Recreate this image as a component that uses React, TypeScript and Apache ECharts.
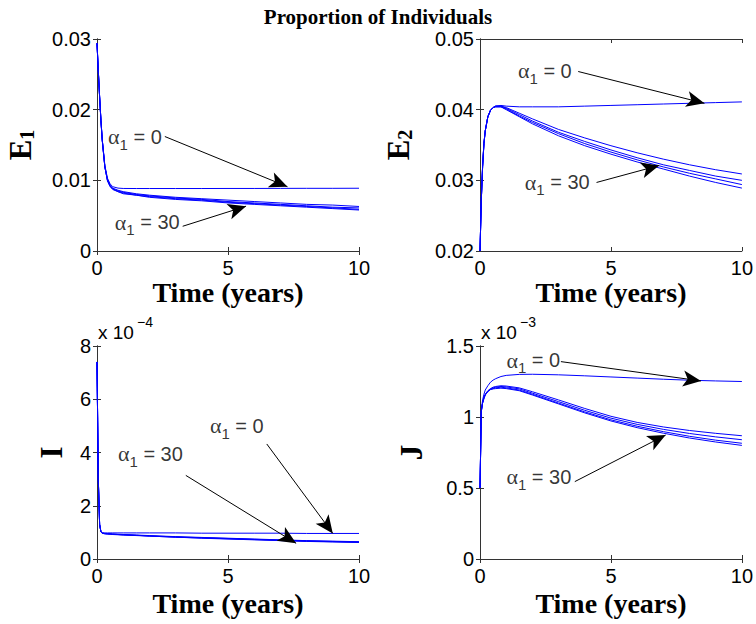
import React, { useEffect, useRef } from 'react';
import * as echarts from 'echarts';

// time points (years)
const T = [0, 0.05, 0.1, 0.15, 0.2, 0.3, 0.4, 0.5, 0.6, 0.8, 1, 1.5, 2, 3, 4, 5, 6, 7, 8, 9, 10];

// E1 curves
const e1Alpha0 = [0.0294, 0.0255, 0.0218, 0.0185, 0.0158, 0.0121, 0.0103, 0.0095, 0.0091, 0.0089, 0.00885, 0.00884, 0.00884, 0.00884, 0.00884, 0.00885, 0.00885, 0.00886, 0.00887, 0.00887, 0.00888];
const e1CurveB = [0.0294, 0.0255, 0.0218, 0.0185, 0.0157, 0.0119, 0.0101, 0.0093, 0.0089, 0.0086, 0.0084, 0.0081, 0.0079, 0.0076, 0.0074, 0.0072, 0.0070, 0.0068, 0.0066, 0.0065, 0.0063];
const e1CurveC = [0.0294, 0.0255, 0.0218, 0.0185, 0.0157, 0.0119, 0.0100, 0.0092, 0.0088, 0.0085, 0.0083, 0.0080, 0.0078, 0.0075, 0.0073, 0.0070, 0.0068, 0.0066, 0.0064, 0.0062, 0.0061];
const e1CurveD = [0.0294, 0.0255, 0.0218, 0.0185, 0.0157, 0.0119, 0.0100, 0.0092, 0.0088, 0.0084, 0.0082, 0.0079, 0.0077, 0.0074, 0.0072, 0.0069, 0.0067, 0.0065, 0.0063, 0.0061, 0.0059];
const e1CurveE = [0.0294, 0.0255, 0.0218, 0.0185, 0.0157, 0.0119, 0.0099, 0.0091, 0.0087, 0.0084, 0.0081, 0.0079, 0.0076, 0.0073, 0.0071, 0.0068, 0.0066, 0.0064, 0.0062, 0.0060, 0.0058];

// E2 curves
const e2Alpha0 = [0.0200, 0.0272, 0.0320, 0.0352, 0.0370, 0.0390, 0.0399, 0.0403, 0.0405, 0.0406, 0.0405, 0.0404, 0.0404, 0.0404, 0.0405, 0.0406, 0.0407, 0.0408, 0.0409, 0.0410, 0.0411];
const e2CurveB = [0.0200, 0.0272, 0.0320, 0.0352, 0.0370, 0.0390, 0.0399, 0.0403, 0.0405, 0.0405, 0.0403, 0.0395, 0.0387, 0.0372, 0.0360, 0.0349, 0.0339, 0.0330, 0.0322, 0.0315, 0.0309];
const e2CurveC = [0.0200, 0.0272, 0.0320, 0.0352, 0.0370, 0.0390, 0.0399, 0.0403, 0.0405, 0.0405, 0.0402, 0.0393, 0.0384, 0.0368, 0.0355, 0.0343, 0.0332, 0.0322, 0.0314, 0.0306, 0.0300];
const e2CurveD = [0.0200, 0.0272, 0.0320, 0.0352, 0.0370, 0.0390, 0.0399, 0.0403, 0.0404, 0.0404, 0.0401, 0.0391, 0.0382, 0.0366, 0.0352, 0.0340, 0.0329, 0.0319, 0.0310, 0.0302, 0.0294];
const e2CurveE = [0.0200, 0.0272, 0.0320, 0.0352, 0.0370, 0.0390, 0.0399, 0.0403, 0.0404, 0.0404, 0.0400, 0.0390, 0.0380, 0.0363, 0.0349, 0.0337, 0.0326, 0.0316, 0.0306, 0.0297, 0.0289];

// I curves (x 1e-4)
const iAlpha0 = [7.4, 3.0, 1.3, 1.03, 0.99, 0.98, 0.98, 0.98, 0.98, 0.98, 0.98, 0.98, 0.98, 0.98, 0.97, 0.97, 0.97, 0.97, 0.96, 0.96, 0.96];
const iCurveB = [7.4, 3.0, 1.3, 1.02, 0.97, 0.96, 0.95, 0.95, 0.94, 0.93, 0.92, 0.90, 0.88, 0.84, 0.81, 0.78, 0.75, 0.72, 0.69, 0.67, 0.65];
const iCurveC = [7.4, 3.0, 1.3, 1.02, 0.97, 0.95, 0.95, 0.94, 0.93, 0.92, 0.91, 0.89, 0.87, 0.83, 0.80, 0.77, 0.74, 0.71, 0.68, 0.66, 0.64];
const iCurveD = [7.4, 3.0, 1.3, 1.02, 0.97, 0.95, 0.94, 0.94, 0.93, 0.92, 0.91, 0.89, 0.86, 0.82, 0.79, 0.76, 0.73, 0.70, 0.67, 0.65, 0.63];
const iCurveE = [7.4, 3.0, 1.3, 1.02, 0.96, 0.95, 0.94, 0.93, 0.92, 0.91, 0.90, 0.88, 0.86, 0.82, 0.78, 0.75, 0.72, 0.69, 0.66, 0.64, 0.62];

// J curves (x 1e-3)
const jAlpha0 = [0.50, 1.05, 1.12, 1.16, 1.19, 1.22, 1.245, 1.26, 1.27, 1.285, 1.293, 1.300, 1.301, 1.297, 1.290, 1.282, 1.274, 1.266, 1.259, 1.254, 1.250];
const jCurveB = [0.50, 1.04, 1.10, 1.14, 1.16, 1.185, 1.20, 1.21, 1.215, 1.22, 1.218, 1.205, 1.178, 1.12, 1.06, 1.005, 0.962, 0.93, 0.905, 0.885, 0.868];
const jCurveC = [0.50, 1.04, 1.10, 1.135, 1.158, 1.182, 1.197, 1.205, 1.21, 1.215, 1.212, 1.198, 1.168, 1.108, 1.047, 0.992, 0.948, 0.913, 0.884, 0.86, 0.84];
const jCurveD = [0.50, 1.04, 1.10, 1.13, 1.155, 1.18, 1.195, 1.2, 1.205, 1.21, 1.205, 1.19, 1.16, 1.098, 1.036, 0.98, 0.935, 0.897, 0.864, 0.837, 0.815];
const jCurveE = [0.50, 1.04, 1.10, 1.13, 1.155, 1.18, 1.193, 1.198, 1.2, 1.203, 1.2, 1.185, 1.155, 1.092, 1.029, 0.972, 0.925, 0.886, 0.852, 0.824, 0.80];

// annotation anchors: [textX, textY, arrowStartX, arrowStartY, arrowEndX, arrowEndY]
const e1Alpha0Note = [0.42, 0.0162, 2.59, 0.0162, 7.27, 0.0091];
const e1Alpha30Note = [0.68, 0.0041, 3.27, 0.0035, 5.69, 0.00634];
const e2Alpha0Note = [1.45, 0.0455, 3.75, 0.0454, 8.57, 0.0409];
const e2Alpha30Note = [1.71, 0.0297, 4.45, 0.0297, 6.84, 0.0321];
const iAlpha0Note = [4.31, 5.0, 6.48, 4.32, 9.0, 0.96];
const iAlpha30Note = [0.8, 3.95, 3.39, 3.14, 7.6, 0.59];
const jAlpha0Note = [1.01, 1.40, 3.09, 1.39, 8.44, 1.254];
const jAlpha30Note = [1.01, 0.58, 3.62, 0.545, 7.09, 0.873];

const xTicks = { min: 0, max: 10, interval: 5 };
const yRanges = [
  { min: 0, max: 0.03, interval: 0.01 },
  { min: 0.02, max: 0.05, interval: 0.01 },
  { min: 0, max: 8, interval: 2 },
  { min: 0, max: 1.5, interval: 0.5 },
];
const yNames = ['{b|E}{s|1}', '{b|E}{s|2}', '{b|I}', '{b|J}'];
const exponents = ['', '', '\u22124', '\u22123'];

const panels = [
  { curves: [e1Alpha0, e1CurveB, e1CurveC, e1CurveD, e1CurveE], notes: [e1Alpha0Note, e1Alpha30Note], labels: ['0', '30'] },
  { curves: [e2Alpha0, e2CurveB, e2CurveC, e2CurveD, e2CurveE], notes: [e2Alpha0Note, e2Alpha30Note], labels: ['0', '30'] },
  { curves: [iAlpha0, iCurveB, iCurveC, iCurveD, iCurveE], notes: [iAlpha0Note, iAlpha30Note], labels: ['0', '30'] },
  { curves: [jAlpha0, jCurveB, jCurveC, jCurveD, jCurveE], notes: [jAlpha0Note, jAlpha30Note], labels: ['0', '30'] },
];

const gridBoxes = [
  { left: 97, top: 39, width: 262, height: 212 },
  { left: 480, top: 39, width: 262, height: 212 },
  { left: 97, top: 346, width: 262, height: 213 },
  { left: 480, top: 346, width: 262, height: 213 },
];
const yNameGaps = [60, 65, 30, 53];
const xNameGaps = [27, 27, 30, 30];

const SANS = 'Liberation Sans, Arial, sans-serif';
const SERIF = 'Liberation Serif, Times New Roman, serif';
const AXIS_COLOR = '#333333';

function fmtY(i: number, v: number) {
  if (i <= 1) return v === 0 ? '0' : v.toFixed(2);
  return String(Math.round(v * 10) / 10);
}

export default function App() {
  const ref = useRef<HTMLDivElement>(null);
  useEffect(() => {
    const chart = echarts.init(ref.current!, null, { renderer: 'svg' });
    const xAxis: any[] = [];
    const yAxis: any[] = [];
    const series: any[] = [];
    const graphic: any[] = [];

    gridBoxes.forEach((_, i) => {
      xAxis.push({
        type: 'value', gridIndex: i, ...xTicks, position: 'bottom',
        axisLine: { show: true, lineStyle: { color: AXIS_COLOR, width: 1 } },
        axisTick: { show: true, inside: true, length: 4, lineStyle: { color: AXIS_COLOR } },
        axisLabel: { show: true, color: '#000', fontFamily: SANS, fontSize: 20, margin: 7 },
        splitLine: { show: false },
        name: 'Time (years)', nameLocation: 'middle', nameGap: xNameGaps[i],
        nameTextStyle: { fontFamily: SERIF, fontWeight: 'bold', fontSize: 28, color: '#000' },
      });
      yAxis.push({
        type: 'value', gridIndex: i, ...yRanges[i], position: 'left',
        axisLine: { show: true, lineStyle: { color: AXIS_COLOR, width: 1 } },
        axisTick: { show: true, inside: true, length: 4, lineStyle: { color: AXIS_COLOR } },
        axisLabel: { show: true, color: '#000', fontFamily: SANS, fontSize: 20, margin: 6, formatter: (v: number) => fmtY(i, v) },
        splitLine: { show: false },
        name: yNames[i], nameLocation: 'middle', nameGap: yNameGaps[i], nameRotate: 90,
        nameTextStyle: {
          color: '#000', fontFamily: SERIF, fontWeight: 'bold', fontSize: 30,
          rich: {
            b: { fontFamily: SERIF, fontWeight: 'bold', fontSize: 31, color: '#000' },
            s: { fontFamily: SERIF, fontWeight: 'bold', fontSize: 20, color: '#000', padding: [14, 0, 0, 0] },
          },
        },
      });
    });
    gridBoxes.forEach((_, i) => {
      xAxis.push({
        type: 'value', gridIndex: i, ...xTicks, position: 'top',
        axisLine: { show: true, lineStyle: { color: AXIS_COLOR, width: 1 } },
        axisTick: { show: true, inside: true, length: 4, lineStyle: { color: AXIS_COLOR } },
        axisLabel: { show: false }, splitLine: { show: false },
      });
      yAxis.push({
        type: 'value', gridIndex: i, ...yRanges[i], position: 'right',
        axisLine: { show: true, lineStyle: { color: AXIS_COLOR, width: 1 } },
        axisTick: { show: true, inside: true, length: 4, lineStyle: { color: AXIS_COLOR } },
        axisLabel: { show: false }, splitLine: { show: false },
      });
    });

    panels.forEach((p, i) => {
      p.curves.forEach((c) => {
        series.push({
          type: 'line', xAxisIndex: i, yAxisIndex: i, showSymbol: false, symbol: 'none',
          lineStyle: { color: '#0000ff', width: 1 }, silent: true, z: 2,
          data: T.map((t, k) => [t, c[k]]),
        });
      });
      series.push({
        type: 'scatter', xAxisIndex: i, yAxisIndex: i, symbolSize: 0, silent: true, z: 5,
        data: p.notes.map((n) => [n[0], n[1]]),
        label: {
          show: true, position: 'right', distance: 0, color: '#000',
          formatter: (d: any) => `{a|\u03b1}{s|1}{b| = ${p.labels[d.dataIndex]}}`,
          rich: {
            a: { fontFamily: SERIF, fontSize: 22, color: '#000' },
            s: { fontFamily: SANS, fontSize: 15, color: '#000', padding: [15, 0, 0, 0] },
            b: { fontFamily: SANS, fontSize: 20, color: '#000' },
          },
        },
        markLine: {
          silent: true, animation: false,
          symbol: ['none', 'arrow'], symbolSize: [12, 18],
          lineStyle: { color: '#000', width: 1, type: 'solid' },
          label: { show: false },
          data: p.notes.map((n) => [{ coord: [n[2], n[3]] }, { coord: [n[4], n[5]] }]),
        },
      });
      if (exponents[i]) {
        graphic.push({
          type: 'text', left: gridBoxes[i].left + 1, top: gridBoxes[i].top - 23,
          style: { text: 'x 10', fontFamily: SANS, fontSize: 19, fill: '#000' },
        });
        graphic.push({
          type: 'text', left: gridBoxes[i].left + 40, top: gridBoxes[i].top - 31,
          style: { text: exponents[i], fontFamily: SANS, fontSize: 14, fill: '#000' },
        });
      }
    });

    chart.setOption({
      animation: false,
      backgroundColor: '#ffffff',
      title: {
        text: 'Proportion of Individuals', left: 'center', top: 1,
        textStyle: { fontFamily: SERIF, fontWeight: 'bold', fontSize: 21, color: '#000' },
      },
      grid: gridBoxes.map((g) => ({ ...g, containLabel: false })),
      xAxis, yAxis, series, graphic,
    });
    return () => chart.dispose();
  }, []);
  return <div ref={ref} style={{ position: 'fixed', left: 0, top: 0, width: 756, height: 624, background: '#fff' }} />;
}
